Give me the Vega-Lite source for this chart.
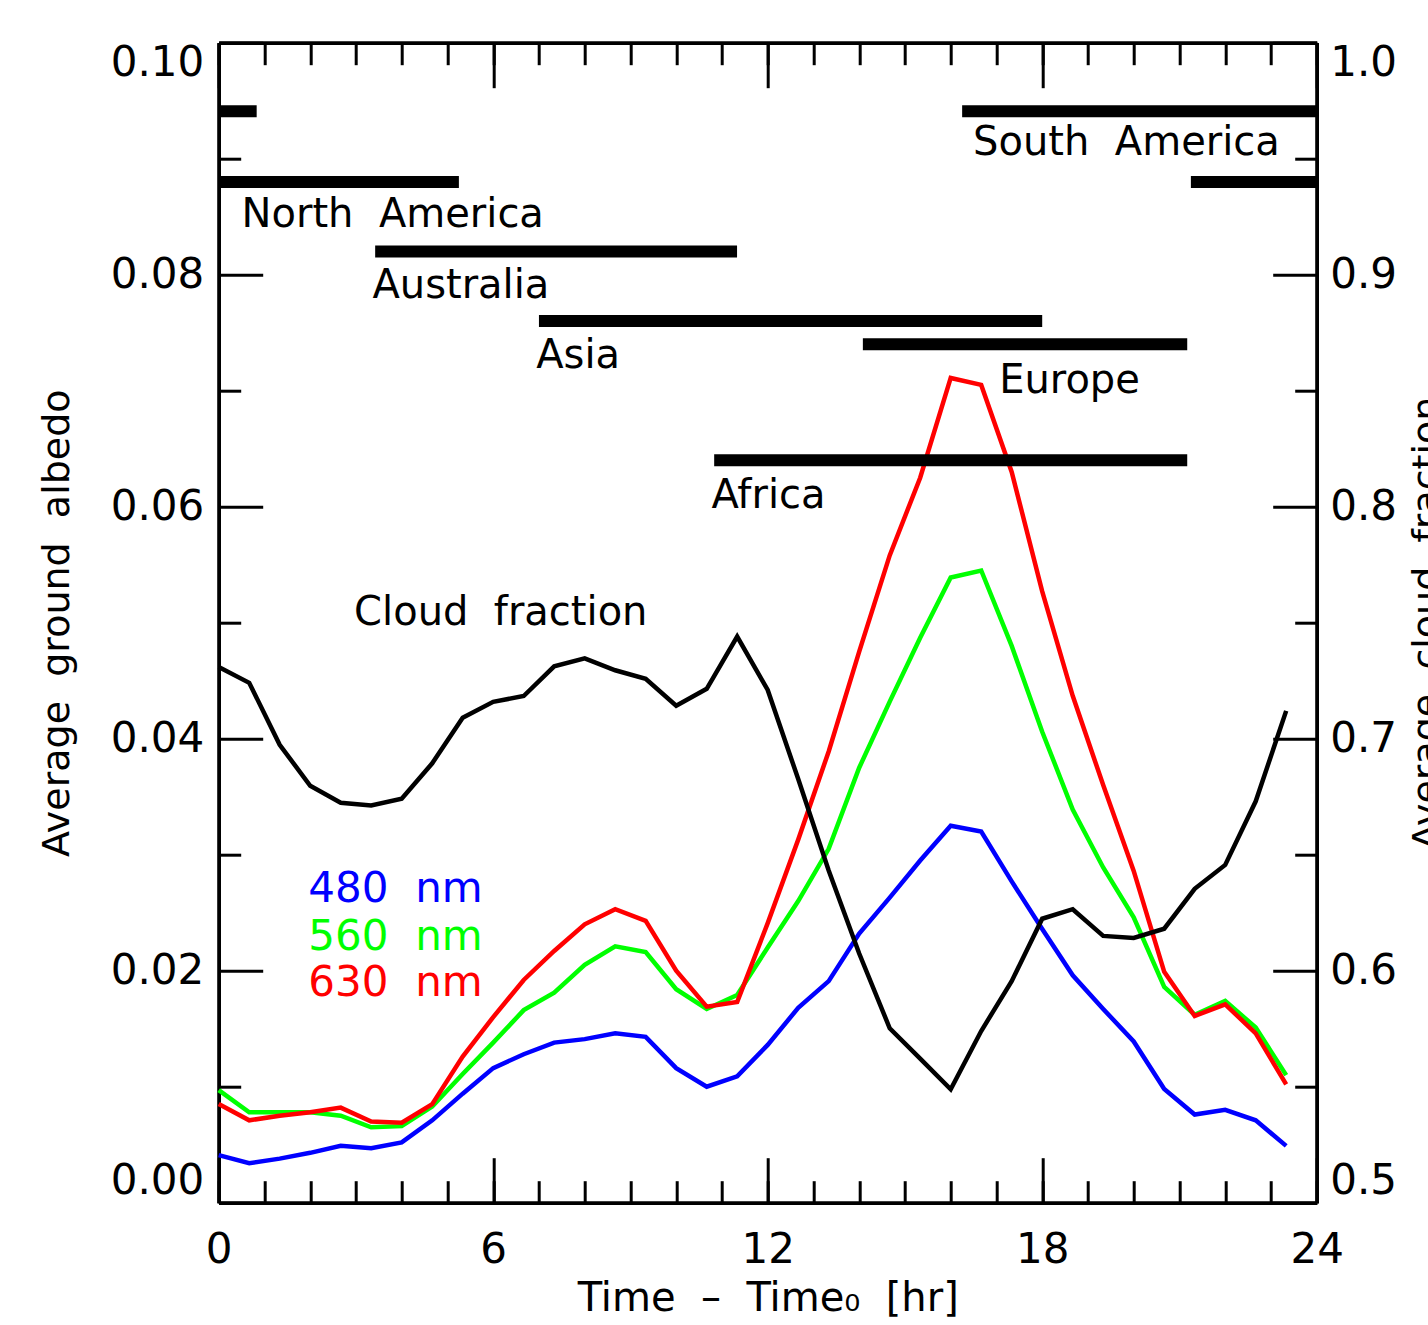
{
  "$schema": "https://vega.github.io/schema/vega-lite/v6.json",
  "width": 1098,
  "height": 1160,
  "autosize": {"type": "none"},
  "padding": {"left": 218.7, "top": 42.7, "right": 111.3, "bottom": 122.3},
  "background": "white",
  "config": {
    "view": {"stroke": null},
    "axis": {
      "grid": false,
      "domainColor": "black",
      "domainWidth": 3.5,
      "tickColor": "black",
      "tickWidth": 3,
      "labelFont": "DejaVu Sans",
      "labelFontSize": 42,
      "labelColor": "black",
      "titleFont": "DejaVu Sans",
      "titleFontSize": 38,
      "titleFontWeight": "normal",
      "titleColor": "black"
    }
  },
  "datasets": {
    "albedo": [
      {"t": 0, "v": 0.0041, "wl": "480 nm"}, {"t": 0.667, "v": 0.0034, "wl": "480 nm"}, {"t": 1.333, "v": 0.0038, "wl": "480 nm"}, {"t": 2, "v": 0.0043, "wl": "480 nm"}, {"t": 2.667, "v": 0.0049, "wl": "480 nm"}, {"t": 3.333, "v": 0.0047, "wl": "480 nm"}, {"t": 4, "v": 0.0052, "wl": "480 nm"}, {"t": 4.667, "v": 0.0071, "wl": "480 nm"}, {"t": 5.333, "v": 0.0094, "wl": "480 nm"}, {"t": 6, "v": 0.0116, "wl": "480 nm"}, {"t": 6.667, "v": 0.0128, "wl": "480 nm"}, {"t": 7.333, "v": 0.0138, "wl": "480 nm"}, {"t": 8, "v": 0.0141, "wl": "480 nm"}, {"t": 8.667, "v": 0.0146, "wl": "480 nm"}, {"t": 9.333, "v": 0.0143, "wl": "480 nm"}, {"t": 10, "v": 0.0116, "wl": "480 nm"}, {"t": 10.667, "v": 0.0100, "wl": "480 nm"}, {"t": 11.333, "v": 0.0109, "wl": "480 nm"}, {"t": 12, "v": 0.0136, "wl": "480 nm"}, {"t": 12.667, "v": 0.0168, "wl": "480 nm"}, {"t": 13.333, "v": 0.0191, "wl": "480 nm"}, {"t": 14, "v": 0.0232, "wl": "480 nm"}, {"t": 14.667, "v": 0.0263, "wl": "480 nm"}, {"t": 15.333, "v": 0.0295, "wl": "480 nm"}, {"t": 16, "v": 0.0325, "wl": "480 nm"}, {"t": 16.667, "v": 0.0320, "wl": "480 nm"}, {"t": 17.333, "v": 0.0277, "wl": "480 nm"}, {"t": 18, "v": 0.0236, "wl": "480 nm"}, {"t": 18.667, "v": 0.0196, "wl": "480 nm"}, {"t": 19.333, "v": 0.0167, "wl": "480 nm"}, {"t": 20, "v": 0.0139, "wl": "480 nm"}, {"t": 20.667, "v": 0.0098, "wl": "480 nm"}, {"t": 21.333, "v": 0.0076, "wl": "480 nm"}, {"t": 22, "v": 0.0080, "wl": "480 nm"}, {"t": 22.667, "v": 0.0071, "wl": "480 nm"}, {"t": 23.333, "v": 0.0049, "wl": "480 nm"},
      {"t": 0, "v": 0.0097, "wl": "560 nm"}, {"t": 0.667, "v": 0.0078, "wl": "560 nm"}, {"t": 1.333, "v": 0.0078, "wl": "560 nm"}, {"t": 2, "v": 0.0078, "wl": "560 nm"}, {"t": 2.667, "v": 0.0075, "wl": "560 nm"}, {"t": 3.333, "v": 0.0065, "wl": "560 nm"}, {"t": 4, "v": 0.0066, "wl": "560 nm"}, {"t": 4.667, "v": 0.0083, "wl": "560 nm"}, {"t": 5.333, "v": 0.0111, "wl": "560 nm"}, {"t": 6, "v": 0.0138, "wl": "560 nm"}, {"t": 6.667, "v": 0.0166, "wl": "560 nm"}, {"t": 7.333, "v": 0.0181, "wl": "560 nm"}, {"t": 8, "v": 0.0205, "wl": "560 nm"}, {"t": 8.667, "v": 0.0221, "wl": "560 nm"}, {"t": 9.333, "v": 0.0216, "wl": "560 nm"}, {"t": 10, "v": 0.0184, "wl": "560 nm"}, {"t": 10.667, "v": 0.0167, "wl": "560 nm"}, {"t": 11.333, "v": 0.0179, "wl": "560 nm"}, {"t": 12, "v": 0.0220, "wl": "560 nm"}, {"t": 12.667, "v": 0.0260, "wl": "560 nm"}, {"t": 13.333, "v": 0.0305, "wl": "560 nm"}, {"t": 14, "v": 0.0375, "wl": "560 nm"}, {"t": 14.667, "v": 0.0432, "wl": "560 nm"}, {"t": 15.333, "v": 0.0487, "wl": "560 nm"}, {"t": 16, "v": 0.0539, "wl": "560 nm"}, {"t": 16.667, "v": 0.0545, "wl": "560 nm"}, {"t": 17.333, "v": 0.0480, "wl": "560 nm"}, {"t": 18, "v": 0.0406, "wl": "560 nm"}, {"t": 18.667, "v": 0.0339, "wl": "560 nm"}, {"t": 19.333, "v": 0.0289, "wl": "560 nm"}, {"t": 20, "v": 0.0246, "wl": "560 nm"}, {"t": 20.667, "v": 0.0186, "wl": "560 nm"}, {"t": 21.333, "v": 0.0162, "wl": "560 nm"}, {"t": 22, "v": 0.0174, "wl": "560 nm"}, {"t": 22.667, "v": 0.0151, "wl": "560 nm"}, {"t": 23.333, "v": 0.0110, "wl": "560 nm"},
      {"t": 0, "v": 0.0085, "wl": "630 nm"}, {"t": 0.667, "v": 0.0071, "wl": "630 nm"}, {"t": 1.333, "v": 0.0075, "wl": "630 nm"}, {"t": 2, "v": 0.0078, "wl": "630 nm"}, {"t": 2.667, "v": 0.0082, "wl": "630 nm"}, {"t": 3.333, "v": 0.0070, "wl": "630 nm"}, {"t": 4, "v": 0.0069, "wl": "630 nm"}, {"t": 4.667, "v": 0.0085, "wl": "630 nm"}, {"t": 5.333, "v": 0.0126, "wl": "630 nm"}, {"t": 6, "v": 0.0160, "wl": "630 nm"}, {"t": 6.667, "v": 0.0192, "wl": "630 nm"}, {"t": 7.333, "v": 0.0217, "wl": "630 nm"}, {"t": 8, "v": 0.0240, "wl": "630 nm"}, {"t": 8.667, "v": 0.0253, "wl": "630 nm"}, {"t": 9.333, "v": 0.0243, "wl": "630 nm"}, {"t": 10, "v": 0.0200, "wl": "630 nm"}, {"t": 10.667, "v": 0.0169, "wl": "630 nm"}, {"t": 11.333, "v": 0.0173, "wl": "630 nm"}, {"t": 12, "v": 0.0241, "wl": "630 nm"}, {"t": 12.667, "v": 0.0313, "wl": "630 nm"}, {"t": 13.333, "v": 0.0389, "wl": "630 nm"}, {"t": 14, "v": 0.0475, "wl": "630 nm"}, {"t": 14.667, "v": 0.0558, "wl": "630 nm"}, {"t": 15.333, "v": 0.0625, "wl": "630 nm"}, {"t": 16, "v": 0.0711, "wl": "630 nm"}, {"t": 16.667, "v": 0.0705, "wl": "630 nm"}, {"t": 17.333, "v": 0.0630, "wl": "630 nm"}, {"t": 18, "v": 0.0527, "wl": "630 nm"}, {"t": 18.667, "v": 0.0437, "wl": "630 nm"}, {"t": 19.333, "v": 0.0360, "wl": "630 nm"}, {"t": 20, "v": 0.0286, "wl": "630 nm"}, {"t": 20.667, "v": 0.0199, "wl": "630 nm"}, {"t": 21.333, "v": 0.0161, "wl": "630 nm"}, {"t": 22, "v": 0.0171, "wl": "630 nm"}, {"t": 22.667, "v": 0.0146, "wl": "630 nm"}, {"t": 23.333, "v": 0.0102, "wl": "630 nm"}
    ],
    "cloud": [
      {"t": 0, "cf": 0.7309}, {"t": 0.667, "cf": 0.7241}, {"t": 1.333, "cf": 0.6974}, {"t": 2, "cf": 0.6797}, {"t": 2.667, "cf": 0.6724}, {"t": 3.333, "cf": 0.6712}, {"t": 4, "cf": 0.6741}, {"t": 4.667, "cf": 0.6894}, {"t": 5.333, "cf": 0.7090}, {"t": 6, "cf": 0.7159}, {"t": 6.667, "cf": 0.7184}, {"t": 7.333, "cf": 0.7312}, {"t": 8, "cf": 0.7346}, {"t": 8.667, "cf": 0.7295}, {"t": 9.333, "cf": 0.7258}, {"t": 10, "cf": 0.7142}, {"t": 10.667, "cf": 0.7215}, {"t": 11.333, "cf": 0.7440}, {"t": 12, "cf": 0.7210}, {"t": 12.667, "cf": 0.6826}, {"t": 13.333, "cf": 0.6432}, {"t": 14, "cf": 0.6074}, {"t": 14.667, "cf": 0.5752}, {"t": 15.333, "cf": 0.5621}, {"t": 16, "cf": 0.5489}, {"t": 16.667, "cf": 0.5740}, {"t": 17.333, "cf": 0.5955}, {"t": 18, "cf": 0.6224}, {"t": 18.667, "cf": 0.6265}, {"t": 19.333, "cf": 0.6150}, {"t": 20, "cf": 0.6141}, {"t": 20.667, "cf": 0.6181}, {"t": 21.333, "cf": 0.6353}, {"t": 22, "cf": 0.6456}, {"t": 22.667, "cf": 0.6730}, {"t": 23.333, "cf": 0.7120}
    ],
    "regions": [
      {"region": "South America", "start": 16.25, "end": 24, "level": 0.0941},
      {"region": "South America", "start": 0, "end": 0.83, "level": 0.0941},
      {"region": "North America", "start": 0, "end": 5.25, "level": 0.0880},
      {"region": "North America", "start": 21.25, "end": 24, "level": 0.0880},
      {"region": "Australia", "start": 3.42, "end": 11.33, "level": 0.0820},
      {"region": "Asia", "start": 7.0, "end": 18.0, "level": 0.0760},
      {"region": "Europe", "start": 14.08, "end": 21.17, "level": 0.0740},
      {"region": "Africa", "start": 10.83, "end": 21.17, "level": 0.0640}
    ],
    "labels": [
      {"label": "South \u00a0America", "t": 16.49, "v": 0.0903},
      {"label": "North \u00a0America", "t": 0.5, "v": 0.0841},
      {"label": "Australia", "t": 3.36, "v": 0.0780},
      {"label": "Asia", "t": 6.94, "v": 0.0720},
      {"label": "Europe", "t": 17.06, "v": 0.0698},
      {"label": "Africa", "t": 10.77, "v": 0.0599},
      {"label": "Cloud \u00a0fraction", "t": 2.96, "v": 0.0498}
    ],
    "legend": [
      {"wl": "480 nm", "label": "480 \u00a0nm", "t": 1.96, "v": 0.0259},
      {"wl": "560 nm", "label": "560 \u00a0nm", "t": 1.96, "v": 0.0218},
      {"wl": "630 nm", "label": "630 \u00a0nm", "t": 1.96, "v": 0.0178}
    ]
  },
  "layer": [
    {
      "data": {"name": "albedo"},
      "mark": {"type": "line", "strokeWidth": 4.5},
      "encoding": {
        "x": {"field": "t", "type": "quantitative",
          "scale": {"domain": [0, 24], "nice": false, "zero": false},
          "axis": {"orient": "bottom", "values": [0, 6, 12, 18, 24], "format": "d", "tickSize": -45, "labelPadding": 72, "labelFlush": false, "title": "Time \u00a0– \u00a0Time₀ \u00a0[hr]", "titleFontSize": 40, "titlePadding": 8}},
        "y": {"field": "v", "type": "quantitative",
          "scale": {"domain": [0, 0.1], "nice": false, "zero": false},
          "axis": {"orient": "left", "values": [0, 0.02, 0.04, 0.06, 0.08, 0.1], "format": ".2f", "tickSize": -44, "labelPadding": 59, "labelFlush": true, "title": "Average \u00a0ground \u00a0albedo", "titlePadding": 34}},
        "color": {"field": "wl", "type": "nominal",
          "scale": {"domain": ["480 nm", "560 nm", "630 nm"], "range": ["#0000ff", "#00ff00", "#ff0000"]},
          "legend": null}
      }
    },
    {
      "data": {"name": "cloud"},
      "mark": {"type": "line", "strokeWidth": 4.5, "color": "black"},
      "encoding": {
        "x": {"field": "t", "type": "quantitative",
          "scale": {"domain": [0, 24], "nice": false, "zero": false},
          "axis": {"orient": "bottom", "values": [0,1,2,3,4,5,6,7,8,9,10,11,12,13,14,15,16,17,18,19,20,21,22,23,24], "tickSize": -22, "labels": false, "title": null}},
        "y": {"field": "cf", "type": "quantitative",
          "scale": {"domain": [0.5, 1.0], "nice": false, "zero": false},
          "axis": {"orient": "right", "values": [0.5, 0.6, 0.7, 0.8, 0.9, 1.0], "format": ".1f", "tickSize": -44, "labelPadding": 57, "labelFlush": true, "title": "Average \u00a0cloud \u00a0fraction", "titleAngle": -90, "titleBaseline": "top", "titlePadding": 12}}
      }
    },
    {
      "data": {"name": "regions"},
      "mark": {"type": "rule", "strokeWidth": 12, "strokeCap": "butt", "color": "black"},
      "encoding": {
        "x": {"field": "start", "type": "quantitative",
          "scale": {"domain": [0, 24], "nice": false, "zero": false},
          "axis": {"orient": "top", "values": [0, 6, 12, 18, 24], "tickSize": -45, "labels": false, "title": null}},
        "x2": {"field": "end"},
        "y": {"field": "level", "type": "quantitative",
          "scale": {"domain": [0, 0.1], "nice": false, "zero": false},
          "axis": {"orient": "left", "values": [0.01, 0.03, 0.05, 0.07, 0.09], "tickSize": -22, "labels": false, "title": null}}
      }
    },
    {
      "data": {"name": "labels"},
      "mark": {"type": "text", "font": "DejaVu Sans", "fontSize": 40, "align": "left", "baseline": "alphabetic", "color": "black"},
      "encoding": {
        "x": {"field": "t", "type": "quantitative",
          "scale": {"domain": [0, 24], "nice": false, "zero": false},
          "axis": {"orient": "top", "values": [0,1,2,3,4,5,6,7,8,9,10,11,12,13,14,15,16,17,18,19,20,21,22,23,24], "tickSize": -22, "labels": false, "title": null}},
        "y": {"field": "v", "type": "quantitative",
          "scale": {"domain": [0, 0.1], "nice": false, "zero": false},
          "axis": {"orient": "right", "values": [0.01, 0.03, 0.05, 0.07, 0.09], "tickSize": -22, "labels": false, "title": null}},
        "text": {"field": "label"}
      }
    },
    {
      "data": {"name": "legend"},
      "mark": {"type": "text", "font": "DejaVu Sans", "fontSize": 42, "align": "left", "baseline": "alphabetic"},
      "encoding": {
        "x": {"field": "t", "type": "quantitative", "scale": {"domain": [0, 24], "nice": false, "zero": false}, "axis": null},
        "y": {"field": "v", "type": "quantitative", "scale": {"domain": [0, 0.1], "nice": false, "zero": false}, "axis": null},
        "text": {"field": "label"},
        "color": {"field": "wl", "type": "nominal",
          "scale": {"domain": ["480 nm", "560 nm", "630 nm"], "range": ["#0000ff", "#00ff00", "#ff0000"]},
          "legend": null}
      }
    }
  ],
  "resolve": {
    "scale": {"x": "independent", "y": "independent"},
    "axis": {"x": "independent", "y": "independent"}
  }
}
